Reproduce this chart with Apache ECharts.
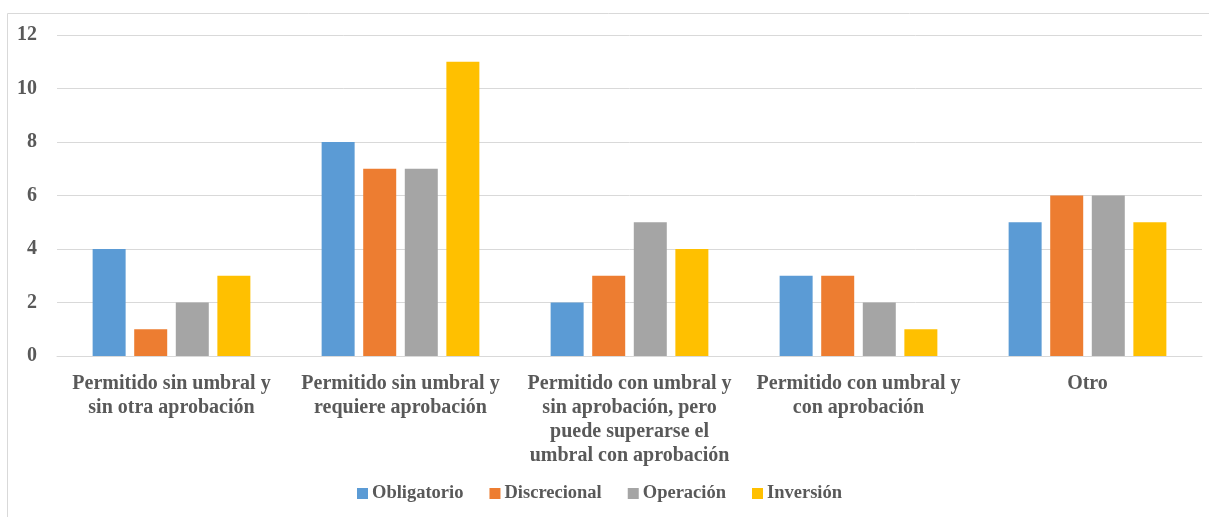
<!DOCTYPE html>
<html>
<head>
<meta charset="utf-8">
<script src="https://cdn.jsdelivr.net/npm/echarts@6/dist/echarts.min.js"></script>
<style>
html,body{margin:0;padding:0;background:#fff;}
#chart{width:1209px;height:517px;}
</style>
</head>
<body>
<div id="chart"></div>
<script>
var categories = [
    'Permitido sin umbral y\nsin otra aprobación',
    'Permitido sin umbral y\nrequiere aprobación',
    'Permitido con umbral y\nsin aprobación, pero\npuede superarse el\numbral con aprobación',
    'Permitido con umbral y\ncon aprobación',
    'Otro'
];
var obligatorio = [4, 8, 2, 3, 5];
var discrecional = [1, 7, 3, 3, 6];
var operacion = [2, 7, 5, 2, 6];
var inversion = [3, 11, 4, 1, 5];
var yTicks = [0, 2, 4, 6, 8, 10, 12];

var font = '"Liberation Serif", "DejaVu Serif", serif';
var textColor = '#595959';

function bar(name, color, data){
    return {
        name: name,
        type: 'bar',
        data: data,
        barWidth: 33,
        barGap: '26%',
        itemStyle: {color: color}
    };
}

var myChart = echarts.init(document.getElementById('chart'));
myChart.setOption({
    animation: false,
    graphic: [{
        type: 'rect',
        shape: {x: 7.5, y: 13.5, width: 1220, height: 520},
        style: {fill: 'none', stroke: '#d9d9d9', lineWidth: 1}
    }],
    grid: {left: 57, right: 7, top: 35, bottom: 161},
    legend: {
        bottom: 9,
        left: 352,
        itemWidth: 11,
        itemHeight: 11,
        itemGap: 26,
        icon: 'rect',
        textStyle: {fontFamily: font, fontWeight: 'bold', fontSize: 18.5, color: textColor, padding: [0, 0, 0, -1]},
        data: ['Obligatorio', 'Discrecional', 'Operación', 'Inversión']
    },
    xAxis: {
        type: 'category',
        data: categories,
        axisTick: {show: false},
        axisLine: {lineStyle: {color: '#d9d9d9', width: 1}},
        axisLabel: {
            interval: 0,
            margin: 16,
            lineHeight: 24,
            fontFamily: font,
            fontWeight: 'bold',
            fontSize: 20,
            color: textColor
        }
    },
    yAxis: {
        type: 'value',
        min: yTicks[0],
        max: yTicks[yTicks.length - 1],
        interval: 2,
        axisLine: {show: false},
        axisTick: {show: false},
        splitLine: {lineStyle: {color: '#d9d9d9', width: 1}},
        axisLabel: {
            margin: 20,
            fontFamily: font,
            fontWeight: 'bold',
            fontSize: 20,
            color: textColor
        }
    },
    series: [
        bar('Obligatorio', '#5b9bd5', obligatorio),
        bar('Discrecional', '#ed7d31', discrecional),
        bar('Operación', '#a5a5a5', operacion),
        bar('Inversión', '#ffc000', inversion)
    ]
});
</script>
</body>
</html>
